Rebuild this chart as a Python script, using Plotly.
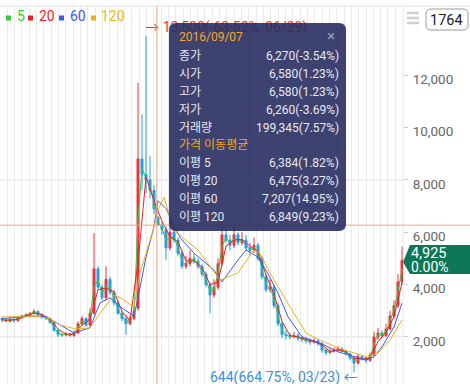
import plotly.graph_objects as go

# ---------------- data ----------------
day_idx = list(range(101))
opens = [2700,2650,2600,2680,2620,2750,2800,2850,2900,2980,
         2850,2750,2700,2550,2250,2100,2080,2120,2050,2150,
         2500,2700,2450,2900,4600,3900,3500,4200,3700,3300,
         2900,2700,2500,2700,3100,8800,8200,8000,7600,6580,
         6270,6100,5400,6000,5700,5200,4700,4800,5000,4900,
         4700,4400,4000,3600,3900,4800,5900,5700,5500,5900,
         5600,5700,5400,5300,5500,5000,4300,3800,3900,3200,
         2500,2100,2050,2000,2050,1950,1900,1850,1800,1850,
         1750,1500,1400,1450,1500,1550,1450,1350,1200,1000,
         1250,1200,1100,1300,2000,2150,2050,2300,2800,3200,
         4100]
highs = [2750,2700,2720,2700,2800,2850,2900,2950,3050,3000,
         2900,2800,2750,2600,2300,2150,2200,2150,2250,2600,
         2800,2750,3100,5970,4700,4000,4700,4300,3800,3400,
         3000,2800,2800,3200,11700,10500,13500,8900,7800,6580,
         6400,6200,6500,6200,5800,5300,5100,5300,5200,5000,
         4800,4500,4100,4200,5000,6590,6100,5900,6200,6000,
         6000,5900,5600,5800,5600,5100,4400,4200,4000,3300,
         2600,2250,2150,2200,2150,2050,2000,1950,1950,1900,
         1800,1550,1550,1600,1650,1600,1500,1400,1250,1350,
         1300,1250,1400,2200,2350,2250,2500,3000,3400,4400,
         5450]
lows = [2550,2550,2550,2550,2580,2700,2750,2800,2850,2800,
        2700,2650,2500,2200,2000,2000,2020,2000,2000,2100,
        2450,2400,2400,2850,3800,3400,3400,3600,3200,2850,
        2600,2080,2450,2650,3000,7600,7500,7300,6700,6260,
        5900,4940,5300,5600,5100,4600,4600,4700,4800,4600,
        4300,3900,2900,3500,3800,4700,5600,5300,5400,5500,
        5500,5300,5100,5200,4900,4200,3700,3700,3100,2400,
        1950,1900,1900,1950,1850,1800,1750,1700,1750,1650,
        1400,1300,1350,1400,1450,1400,1300,1100,644,950,
        1100,1000,1050,1250,1900,1950,2000,2250,2700,3100,
        4000]
closes = [2650,2600,2680,2620,2750,2800,2850,2900,2980,2850,
          2750,2700,2550,2250,2100,2080,2120,2050,2150,2500,
          2700,2450,2900,4600,3900,3500,4200,3700,3300,2900,
          2700,2500,2700,3000,8800,8200,8000,7600,6900,6270,
          6100,5400,6000,5700,5200,4700,4800,5000,4900,4700,
          4400,4000,3600,3900,4800,5900,5700,5500,5900,5600,
          5700,5400,5300,5500,5000,4300,3800,3900,3200,2500,
          2100,2050,2000,2050,1950,1900,1850,1800,1850,1750,
          1500,1400,1450,1500,1550,1450,1350,1200,1000,1250,
          1200,1100,1300,2000,2150,2050,2300,2800,3200,4100,
          4925]

ma5 = [2660,2620,2650,2650,2700,2780,2830,2880,2950,2900,
       2790,2720,2610,2370,2160,2090,2100,2080,2110,2360,
       2620,2550,2720,3920,4180,3660,3920,3900,3460,3060,
       2780,2580,2620,2880,6480,8440,8080,7760,7180,6384,
       6170,5680,5760,5820,5400,4900,4760,4920,4940,4780,
       4520,4160,3760,3780,4440,5460,5780,5580,5740,5720,
       5660,5520,5340,5420,5200,4580,4000,3860,3480,2780,
       2260,2070,2020,2030,1990,1920,1870,1820,1830,1790,
       1600,1440,1430,1480,1530,1490,1390,1260,1080,1150,
       1220,1140,1220,1720,2090,2090,2200,2600,3040,3740,4600]

ma20_idx = list(range(0, 101, 2))
ma20 = [2650,2640,2680,2800,2910,2860,2670,2300,2100,2110,
        2450,2680,3800,3870,3730,2970,2630,4830,8100,7200,
        6420,5830,5630,4900,4900,4670,4000,4100,5470,5700,
        5730,5470,5270,4370,3630,2600,2050,2000,1900,1830,
        1700,1450,1500,1450,1180,1150,1200,1820,2170,2770,4080]

ma60_idx = [0,7,11,14.5,18,22,24.5,27,30,33,34,36,38,39,41,44.5,48,53,55,59,61,64,66,69,71.5,75,79.5,84,88,91,93,95,98,100]
ma60 = [2700,2800,2780,2450,2150,2350,3300,3500,3100,2800,3500,5050,6200,7207,6900,5800,5200,4550,4100,4940,5320,5050,4550,3680,2770,2000,1770,1430,1240,1120,1240,1620,2380,3290]

ma120_idx = [0,9.5,12,14.5,18.5,22,24.5,28,29.5,33,34.5,38,39,40.5,43,46,49,52,54.5,59,63,64.5,67,72,76,79.5,84,88,91.5,94,97,100]
ma120 = [2770,2770,2700,2460,2300,2350,2900,3600,3500,3150,4440,6200,6849,7340,6070,5700,5320,4700,4170,4450,5320,5200,4440,3150,2150,1880,1580,1390,1230,1390,1880,2650]

y_ticks = [2000, 4000, 6000, 8000, 10000, 12000]
grid_levels = [2000, 8000]
cross_idx = 39
cross_price = 6270

legend_items = [("5", "#36c93a"), ("20", "#f01e23"), ("60", "#4158e8"), ("120", "#e6b41e")]
count_label = "1764"
tip_date = "2016/09/07"
tip_rows = [("종가", "6,270(-3.54%)"), ("시가", "6,580(1.23%)"), ("고가", "6,580(1.23%)"),
            ("저가", "6,260(-3.69%)"), ("거래량", "199,345(7.57%)")]
tip_ma_title = "가격 이동평균"
tip_ma_rows = [("이평 5", "6,384(1.82%)"), ("이평 20", "6,475(3.27%)"),
               ("이평 60", "7,207(14.95%)"), ("이평 120", "6,849(9.23%)")]
max_text = "13,500(-63.52%, 06/29)"
min_text = "644(664.75%, 03/23)"
last_price = "4,925"
last_change = "0.00%"

# ---------------- layout geometry ----------------
W, H = 470, 384
PL, PR, PT, PB = 0, 403, 6, 384
Y0, Y1 = 202, 14642
FONT = "Roboto, 'Noto Sans CJK KR', sans-serif"
UP, DOWN = "#e8363d", "#1e9cf0"

def fx(px):
    return (px - PL) / (PR - PL)

def fy(py):
    return (PB - py) / (PB - PT)

def rrect(x0, y0, x1, y1, r):
    X, Y = fx, fy
    return (f"M {X(x0+r)},{Y(y0)} L {X(x1-r)},{Y(y0)} Q {X(x1)},{Y(y0)} {X(x1)},{Y(y0+r)} "
            f"L {X(x1)},{Y(y1-r)} Q {X(x1)},{Y(y1)} {X(x1-r)},{Y(y1)} L {X(x0+r)},{Y(y1)} "
            f"Q {X(x0)},{Y(y1)} {X(x0)},{Y(y1-r)} L {X(x0)},{Y(y0+r)} Q {X(x0)},{Y(y0)} {X(x0+r)},{Y(y0)} Z")

fig = go.Figure()
fig.add_trace(go.Candlestick(
    x=day_idx, open=opens, high=highs, low=lows, close=closes,
    increasing=dict(line=dict(color=UP, width=1), fillcolor=UP),
    decreasing=dict(line=dict(color=DOWN, width=1), fillcolor=DOWN),
    whiskerwidth=0, hoverinfo="skip", showlegend=False))

for xs, ys, col in [(day_idx, ma5, legend_items[0][1]), (ma20_idx, ma20, legend_items[1][1]),
                    (ma60_idx, ma60, legend_items[2][1]), (ma120_idx, ma120, legend_items[3][1])]:
    fig.add_trace(go.Scatter(x=xs, y=ys, mode="lines", line=dict(color=col, width=1),
                             hoverinfo="skip", showlegend=False))

# max label (under tooltip box)
imax = highs.index(max(highs))
fig.add_trace(go.Scatter(x=[imax - 0.2], y=[max(highs)], mode="text",
                         text=["→ " + max_text], textposition="top right",
                         textfont=dict(family=FONT, size=14, color="#e53935"),
                         hoverinfo="skip", showlegend=False))

shapes = []
for g in grid_levels:
    shapes.append(dict(type="line", xref="x domain", x0=0, x1=1, yref="y", y0=g, y1=g,
                       line=dict(color="#dedede", width=1), layer="below"))
shapes.append(dict(type="line", xref="paper", x0=0, x1=W / (PR - PL), yref="paper", y0=1, y1=1,
                   line=dict(color="#e2e2e2", width=1)))
shapes.append(dict(type="line", xref="paper", x0=1, x1=1, yref="paper", y0=0, y1=1,
                   line=dict(color="#e4e4e4", width=1), layer="below"))
# crosshair
shapes.append(dict(type="line", xref="x", x0=cross_idx - 0.3, x1=cross_idx - 0.3, yref="paper", y0=0, y1=1,
                   line=dict(color="#f3a27f", width=1), layer="above"))
shapes.append(dict(type="line", xref="paper", x0=0, x1=W / (PR - PL), yref="y", y0=cross_price, y1=cross_price,
                   line=dict(color="#f3a27f", width=1), layer="above"))
# tooltip box
shapes.append(dict(type="path", xref="paper", yref="paper", path=rrect(169, 23, 346, 231, 7),
                   fillcolor="rgba(40,45,96,0.9)", line=dict(width=0), layer="above"))
# last price box
pts = [(410, 245), (470, 245), (470, 274), (410, 274), (403, 262)]
path = "M " + " L ".join(f"{fx(a)},{fy(b)}" for a, b in pts) + " Z"
shapes.append(dict(type="path", xref="paper", yref="paper", path=path,
                   fillcolor="#0d7758", line=dict(width=0), layer="above"))
# legend squares
for (lab, col), sx in zip(legend_items, [6, 28, 59, 91]):
    shapes.append(dict(type="rect", xref="paper", yref="paper", x0=fx(sx), x1=fx(sx + 5),
                       y0=fy(20.5), y1=fy(15.5), fillcolor=col, line=dict(width=0), layer="above"))
# hamburger
for by in [13, 18, 23]:
    shapes.append(dict(type="line", xref="paper", yref="paper", x0=fx(407), x1=fx(419), y0=fy(by), y1=fy(by),
                       line=dict(color="#cfcfcf", width=2.5)))
# count box
shapes.append(dict(type="path", xref="paper", yref="paper", path=rrect(426, 9, 468, 30, 5),
                   fillcolor="white", line=dict(color="#9a9a9a", width=1)))

ann = []
def text(px, py, s, size, color, anchor="left"):
    ann.append(dict(xref="paper", yref="paper", x=fx(px), y=fy(py), text=s, showarrow=False,
                    xanchor=anchor, yanchor="middle", font=dict(family=FONT, size=size, color=color)))

for (lab, col), tx in zip(legend_items, [15, 37, 68, 99]):
    text(tx, 16, lab, 14, col)
text(447, 20, count_label, 14.5, "#222222", "center")

text(177, 37, tip_date, 12, "#f5a623")
text(331, 36, "×", 15, "#9a9cb8", "center")
ty = 56
for lab, val in tip_rows:
    text(177, ty, lab, 12, "#e8e8f0")
    text(341, ty, val, 12, "#e8e8f0", "right")
    ty += 18
text(177, 145, tip_ma_title, 12, "#f5a623")
ty = 163
for lab, val in tip_ma_rows:
    text(177, ty, lab, 12, "#e8e8f0")
    text(341, ty, val, 12, "#e8e8f0", "right")
    ty += 18

text(409, 253, last_price, 14.5, "white")
text(409, 267, last_change, 14, "white")

imin = lows.index(min(lows))
ann.append(dict(xref="x", yref="y", x=imin + 1.4, y=min(lows), text=min_text + " ←", showarrow=False,
                xanchor="right", yanchor="middle", yshift=-5,
                font=dict(family=FONT, size=14, color="#3d8fe0")))

fig.update_layout(
    width=W, height=H, margin=dict(l=PL, r=W - PR, t=PT, b=H - PB),
    paper_bgcolor="white", plot_bgcolor="white", showlegend=False,
    shapes=shapes, annotations=ann, hovermode=False,
    xaxis=dict(range=[-0.5, 100.25], showticklabels=False, ticks="", showgrid=True,
               gridcolor="#ebebeb", gridwidth=1, tick0=-0.5, dtick=1.83, zeroline=False,
               showline=False, rangeslider=dict(visible=False), fixedrange=True),
    yaxis=dict(range=[Y0, Y1], side="right", tickvals=y_ticks, tickformat=",d",
               showgrid=False, zeroline=False, showline=False, ticks="outside", ticklen=4,
               tickcolor="#c8c8c8", tickfont=dict(family=FONT, size=13.5, color="#666666"),
               ticklabelshift=4, ticklabelstandoff=2, fixedrange=True),
)
fig.write_html("out.html")
